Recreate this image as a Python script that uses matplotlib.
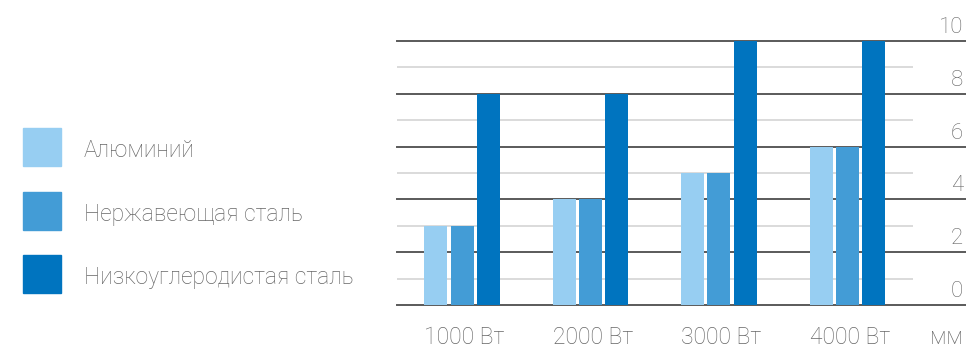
import matplotlib
matplotlib.use("Agg")
import matplotlib.pyplot as plt
from matplotlib.patches import Rectangle
import numpy as np

categories = ["1000 Вт", "2000 Вт", "3000 Вт", "4000 Вт"]
series_names = ["Алюминий", "Нержавеющая сталь", "Низкоуглеродистая сталь"]
aluminium = [3, 4, 5, 6]
stainless = [3, 4, 5, 6]
low_carbon = [8, 8, 10, 10]
y_ticks = [0, 2, 4, 6, 8, 10]
unit_label = "мм"

colors = ["#97CEF2", "#439CD6", "#0074BF"]
text_color = "#666666"
plt.rcParams["font.family"] = ["Roboto", "DejaVu Sans"]

W, H = 966, 350
fig = plt.figure(figsize=(W / 100, H / 100), dpi=100)

# plot area in pixel terms
left_px, right_px, top_px, bottom_px = 397, 913, 41, 305
ax = fig.add_axes([left_px / W, 1 - bottom_px / H,
                   (right_px - left_px) / W, (bottom_px - top_px) / H])

x = np.arange(len(categories))
bw = 0.179
off = 0.206
for i, vals in enumerate([aluminium, stainless, low_carbon]):
    ax.bar(x + (i - 1) * off, vals, width=bw, color=colors[i], zorder=3)

ax.set_xlim(-0.506, 3.51)
ax.set_ylim(0, 10)
for s in ax.spines.values():
    s.set_visible(False)
ax.set_xticks([])
ax.set_yticks([])

# minor gridlines stay inside the plot area
for v in range(1, 10, 2):
    ax.axhline(v, color="#d4d4d4", lw=1.2, zorder=1)
# major gridlines run out under the tick labels
ext = (W - left_px) / (right_px - left_px)
lab_x = (963 - left_px) / (right_px - left_px)
for v in y_ticks:
    ax.plot([0, ext], [v, v], transform=ax.get_yaxis_transform(),
            color="#5a5a5a", lw=1.4, clip_on=False, zorder=2)
    ax.text(lab_x, v + 0.3, str(v),
            transform=ax.get_yaxis_transform(), ha="right", va="baseline",
            fontsize=16, color=text_color, fontweight="light")

cat_y = -(344 - bottom_px) / 26.4
for xi, lab in zip(x, categories):
    ax.text(xi - off - bw / 2, cat_y, lab, ha="left", va="baseline",
            fontsize=16.5, color=text_color, fontweight="light")
ax.text(lab_x, cat_y, unit_label, transform=ax.get_yaxis_transform(),
        ha="right", va="baseline", fontsize=16.5, color=text_color,
        fontweight="light")

# legend drawn as swatches with labels
leg_box = [128, 191.5, 255]
leg_base = [157, 220.5, 284]
for yt, yb, c, name in zip(leg_box, leg_base, colors, series_names):
    fig.add_artist(Rectangle((23 / W, 1 - (yt + 38) / H), 38 / W, 38 / H,
                             transform=fig.transFigure, color=c))
    fig.text(84 / W, 1 - yb / H, name, ha="left", va="baseline",
             fontsize=16.5, color=text_color, fontweight="light")

fig.savefig("out.png", dpi=100)
